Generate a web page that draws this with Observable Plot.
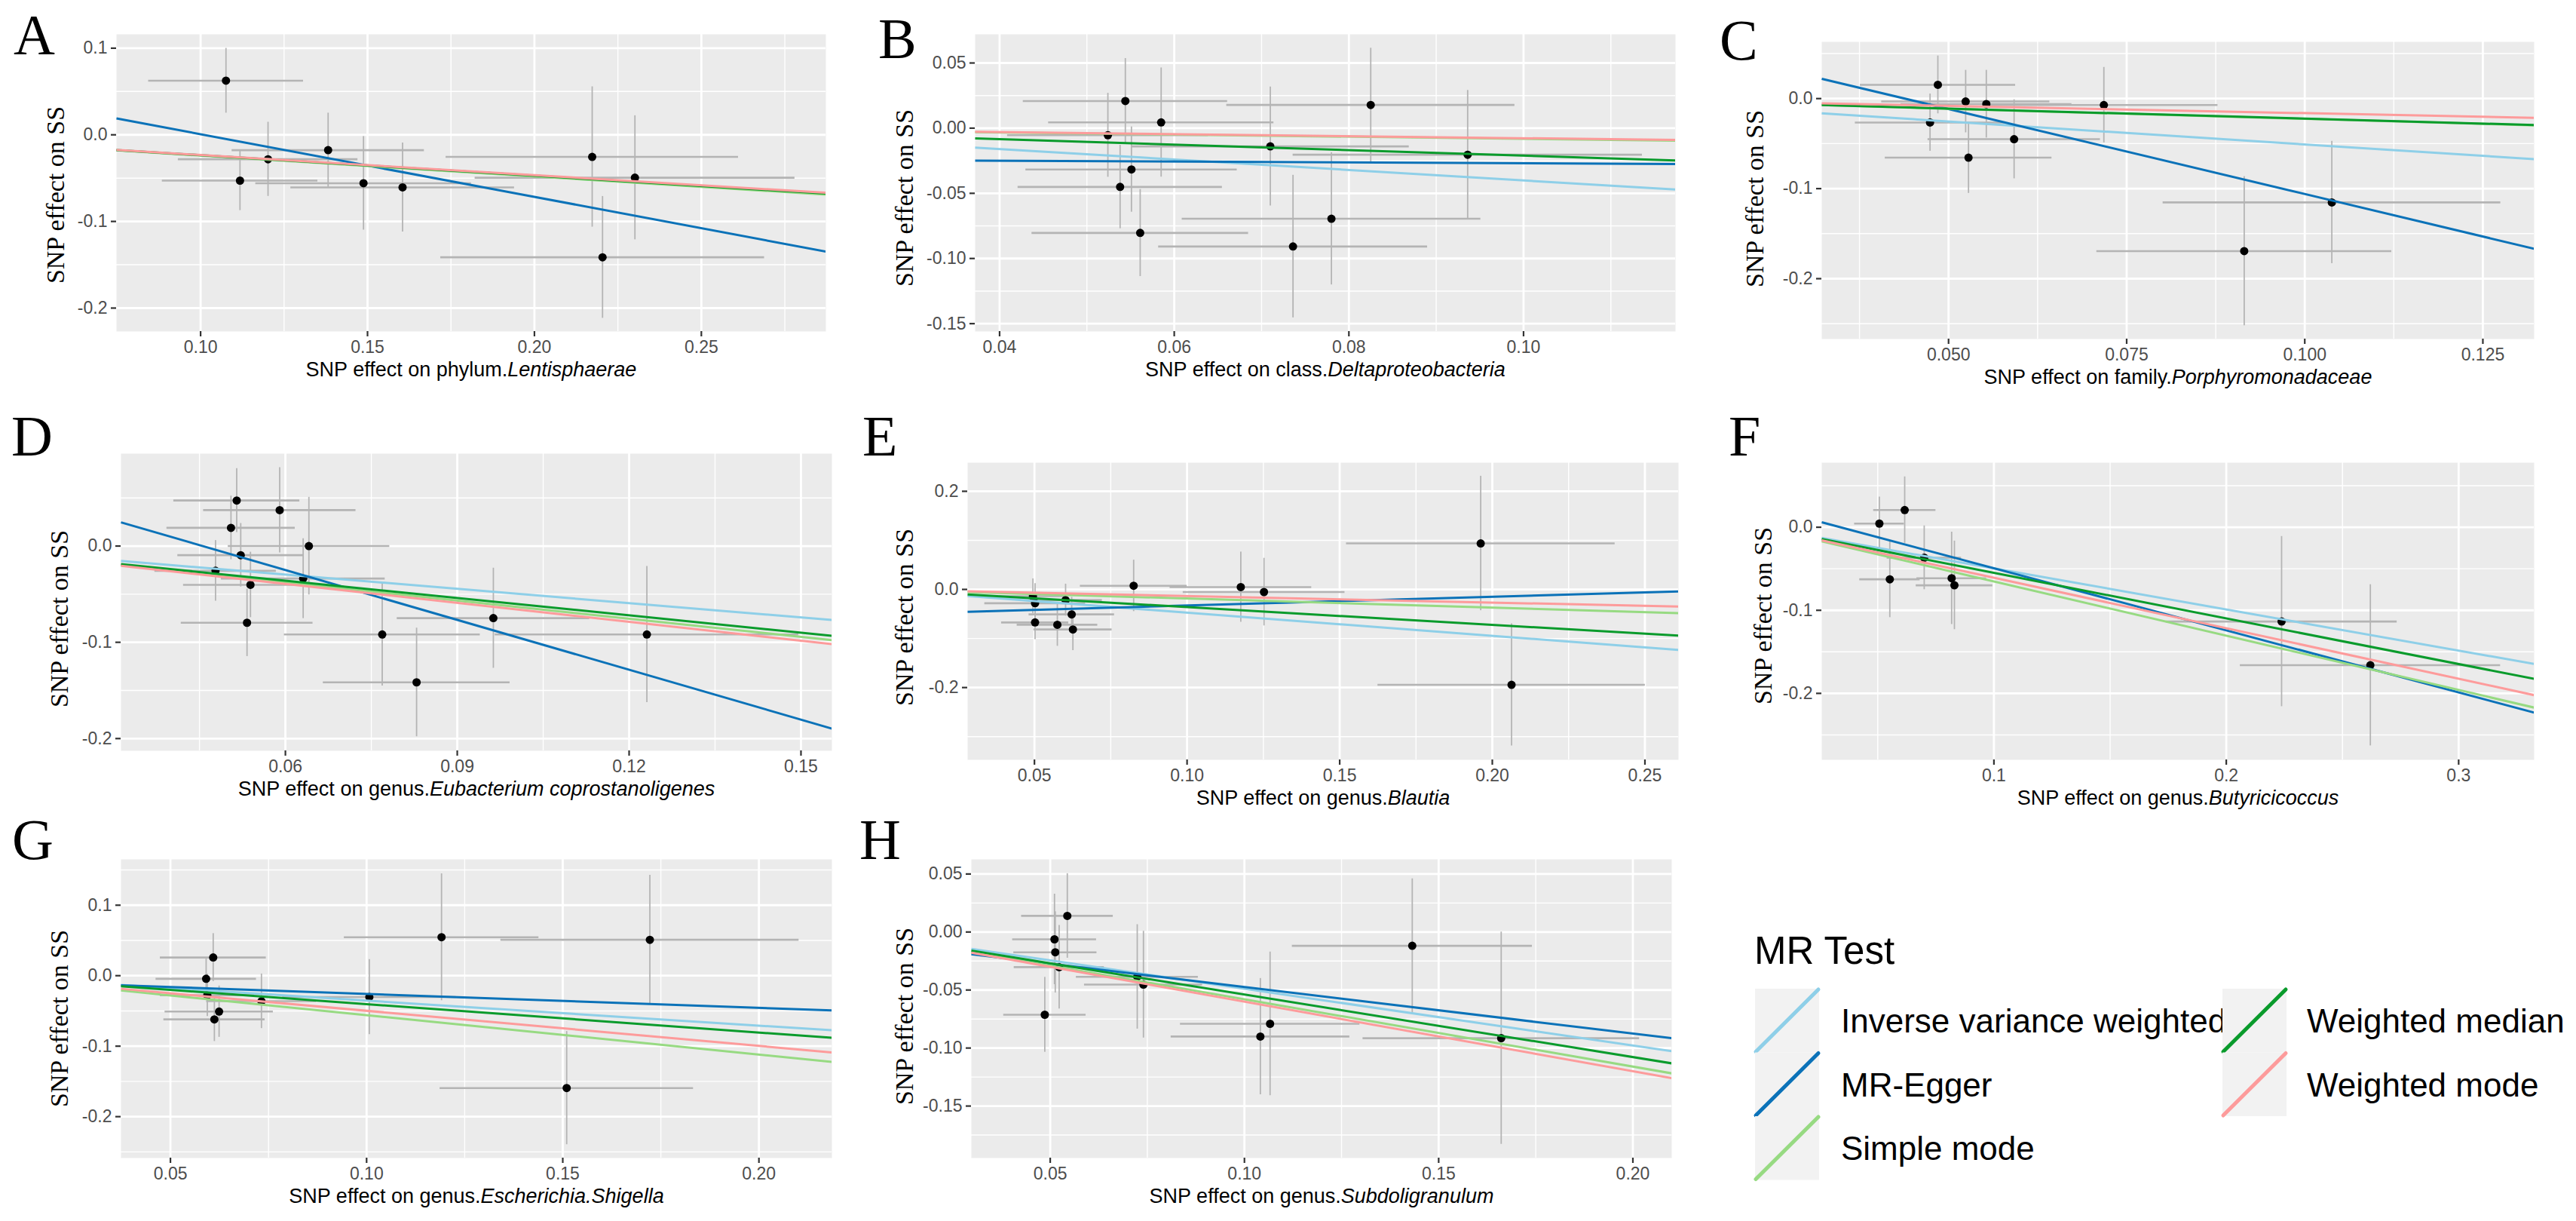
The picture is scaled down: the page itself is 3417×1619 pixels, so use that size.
<!DOCTYPE html>
<html>
<head>
<meta charset="utf-8">
<script src="https://cdn.jsdelivr.net/npm/d3@7"></script>
<script src="https://cdn.jsdelivr.net/npm/@observablehq/plot@0.6"></script>
<style>
html, body { margin: 0; padding: 0; background: #ffffff; width: 3417px; height: 1619px; overflow: hidden; }
#root { position: relative; width: 3417px; height: 1619px; }
.panel { position: absolute; }
#overlay { position: absolute; left: 0; top: 0; pointer-events: none; }
</style>
</head>
<body>
<div id="root"></div>
<script>
// ---------------- data ----------------
const methods = ["Inverse variance weighted", "MR-Egger", "Simple mode", "Weighted median", "Weighted mode"];
const methodColors = ["#8ecfe8", "#0b72b8", "#97da82", "#0a9b2c", "#fd9b9b"];
const yTitle = "SNP effect on SS";

// Panel A – phylum.Lentisphaerae
const A_bx = [0.1076, 0.1202, 0.1118, 0.1382, 0.1488, 0.1605, 0.2173, 0.2301, 0.2204];
const A_by = [0.0625, -0.0282, -0.0529, -0.0177, -0.0559, -0.0607, -0.0255, -0.0495, -0.1414];
const A_sx = [0.0232, 0.0269, 0.0233, 0.0288, 0.0323, 0.0335, 0.0438, 0.0479, 0.0485];
const A_sy = [0.0374, 0.0428, 0.0345, 0.0428, 0.0540, 0.0513, 0.0810, 0.0716, 0.0703];
const A_slope = [-0.236, -0.7233, -0.240, -0.236, -0.233];
const A_icpt = [0, 0.0730, 0, 0, 0];
const A_xTicks = [0.10, 0.15, 0.20, 0.25], A_xLabels = ["0.10", "0.15", "0.20", "0.25"];
const A_xMinor = [0.125, 0.175, 0.225, 0.275];
const A_yTicks = [0.1, 0.0, -0.1, -0.2], A_yLabels = ["0.1", "0.0", "-0.1", "-0.2"];
const A_yMinor = [0.05, -0.05, -0.15];
const A_xDomain = [0.0748, 0.2873], A_yDomain = [-0.227, 0.116];
const A_title = ["SNP effect on phylum.", "Lentisphaerae"];

// Panel B – class.Deltaproteobacteria
const B_bx = [0.0544, 0.0585, 0.0524, 0.0551, 0.0538, 0.0561, 0.0710, 0.0825, 0.0936, 0.0780, 0.0736];
const B_by = [0.0208, 0.0044, -0.0054, -0.0317, -0.0451, -0.0804, -0.0140, 0.0178, -0.0204, -0.0695, -0.0908];
const B_sx = [0.0117, 0.0129, 0.0115, 0.0121, 0.0117, 0.0124, 0.0159, 0.0165, 0.0200, 0.0171, 0.0154];
const B_sy = [0.0327, 0.0419, 0.0322, 0.0327, 0.0320, 0.0334, 0.0457, 0.0436, 0.0494, 0.0507, 0.0547];
const B_slope = [-0.401, -0.0324, -0.082, -0.211, -0.077];
const B_icpt = [0, -0.0237, 0, 0, 0];
const B_xTicks = [0.04, 0.06, 0.08, 0.10], B_xLabels = ["0.04", "0.06", "0.08", "0.10"];
const B_xMinor = [0.05, 0.07, 0.09, 0.11];
const B_yTicks = [0.05, 0.0, -0.05, -0.10, -0.15], B_yLabels = ["0.05", "0.00", "-0.05", "-0.10", "-0.15"];
const B_yMinor = [0.025, -0.025, -0.075, -0.125];
const B_xDomain = [0.0372, 0.1174], B_yDomain = [-0.156, 0.072];
const B_title = ["SNP effect on class.", "Deltaproteobacteria"];

// Panel C – family.Porphyromonadaceae
const C_bx = [0.0485, 0.0524, 0.0553, 0.0474, 0.0718, 0.0592, 0.0528, 0.1038, 0.0915];
const C_by = [0.0153, -0.0032, -0.0061, -0.0266, -0.0072, -0.0451, -0.0656, -0.1153, -0.1694];
const C_sx = [0.0109, 0.0118, 0.0120, 0.0105, 0.0160, 0.0121, 0.0117, 0.0237, 0.0207];
const C_sy = [0.0321, 0.0347, 0.0376, 0.0318, 0.0419, 0.0439, 0.0396, 0.0679, 0.0828];
const C_slope = [-0.509, -1.888, -0.225, -0.222, -0.162];
const C_icpt = [0, 0.0828, 0, 0, 0];
const C_xTicks = [0.05, 0.075, 0.10, 0.125], C_xLabels = ["0.050", "0.075", "0.100", "0.125"];
const C_xMinor = [0.0375, 0.0625, 0.0875, 0.1125];
const C_yTicks = [0.0, -0.1, -0.2], C_yLabels = ["0.0", "-0.1", "-0.2"];
const C_yMinor = [0.05, -0.05, -0.15, -0.25];
const C_xDomain = [0.0322, 0.1322], C_yDomain = [-0.267, 0.063];
const C_title = ["SNP effect on family.", "Porphyromonadaceae"];

// Panel D – genus.Eubacterium coprostanoligenes
const D_bx = [0.0515, 0.0590, 0.0505, 0.0641, 0.0522, 0.0478, 0.0631, 0.0539, 0.0533, 0.0769, 0.0963, 0.0829, 0.1231];
const D_by = [0.0473, 0.0373, 0.0189, 0.0000, -0.0095, -0.0257, -0.0338, -0.0403, -0.0797, -0.0919, -0.0749, -0.1416, -0.0919];
const D_sx = [0.0110, 0.0133, 0.0112, 0.0141, 0.0110, 0.0106, 0.0143, 0.0117, 0.0115, 0.0171, 0.0168, 0.0163, 0.0265];
const D_sy = [0.0332, 0.0443, 0.0330, 0.0507, 0.0330, 0.0315, 0.0415, 0.0340, 0.0350, 0.0534, 0.0520, 0.0564, 0.0707];
const D_slope = [-0.494, -1.727, -0.629, -0.600, -0.656];
const D_icpt = [0, 0.0787, 0, 0, 0];
const D_xTicks = [0.06, 0.09, 0.12, 0.15], D_xLabels = ["0.06", "0.09", "0.12", "0.15"];
const D_xMinor = [0.045, 0.075, 0.105, 0.135];
const D_yTicks = [0.0, -0.1, -0.2], D_yLabels = ["0.0", "-0.1", "-0.2"];
const D_yMinor = [0.05, -0.05, -0.15];
const D_xDomain = [0.0313, 0.1554], D_yDomain = [-0.2127, 0.096];
const D_title = ["SNP effect on genus.", "Eubacterium coprostanoligenes"];

// Panel E – genus.Blautia
const E_bx = [0.0495, 0.0502, 0.0602, 0.0622, 0.0502, 0.0575, 0.0626, 0.0825, 0.1176, 0.1252, 0.1962, 0.2063];
const E_by = [-0.0138, -0.0281, -0.0217, -0.0509, -0.0673, -0.0720, -0.0816, 0.0074, 0.0048, -0.0053, 0.0938, -0.1944];
const E_sx = [0.0110, 0.0165, 0.0120, 0.0140, 0.0110, 0.0132, 0.0128, 0.0175, 0.0232, 0.0265, 0.0440, 0.0438];
const E_sy = [0.0355, 0.0400, 0.0326, 0.0350, 0.0350, 0.0437, 0.0429, 0.0524, 0.0715, 0.0689, 0.1370, 0.1245];
const E_slope = [-0.473, 0.1778, -0.185, -0.361, -0.134];
const E_icpt = [0, -0.0506, 0, 0, 0];
const E_xTicks = [0.05, 0.10, 0.15, 0.20, 0.25], E_xLabels = ["0.05", "0.10", "0.15", "0.20", "0.25"];
const E_xMinor = [0.075, 0.125, 0.175, 0.225];
const E_yTicks = [0.2, 0.0, -0.2], E_yLabels = ["0.2", "0.0", "-0.2"];
const E_yMinor = [0.1, -0.1, -0.3];
const E_xDomain = [0.0281, 0.261], E_yDomain = [-0.3473, 0.2583];
const E_title = ["SNP effect on genus.", "Blautia"];

// Panel F – genus.Butyricicoccus
const F_bx = [0.0507, 0.0616, 0.0700, 0.0552, 0.0818, 0.0830, 0.2238, 0.2620];
const F_by = [0.0044, 0.0207, -0.0367, -0.0627, -0.0614, -0.0699, -0.1135, -0.1661];
const F_sx = [0.0107, 0.0134, 0.0160, 0.0130, 0.0150, 0.0165, 0.0497, 0.0560];
const F_sy = [0.0320, 0.0400, 0.0384, 0.0460, 0.0556, 0.0533, 0.1024, 0.0970];
const F_slope = [-0.495, -0.7476, -0.653, -0.549, -0.608];
const F_icpt = [0, 0.0254, 0, 0, 0];
const F_xTicks = [0.1, 0.2, 0.3], F_xLabels = ["0.1", "0.2", "0.3"];
const F_xMinor = [0.05, 0.15, 0.25];
const F_yTicks = [0.0, -0.1, -0.2], F_yLabels = ["0.0", "-0.1", "-0.2"];
const F_yMinor = [0.05, -0.05, -0.15, -0.25];
const F_xDomain = [0.0259, 0.3325], F_yDomain = [-0.280, 0.0777];
const F_title = ["SNP effect on genus.", "Butyricicoccus"];

// Panel G – genus.Escherichia.Shigella
const G_bx = [0.0609, 0.0591, 0.0594, 0.0732, 0.0624, 0.0612, 0.1007, 0.1191, 0.1722, 0.1510];
const G_by = [0.0258, -0.0044, -0.0277, -0.0362, -0.0509, -0.0620, -0.0303, 0.0546, 0.0509, -0.1594];
const G_sx = [0.0135, 0.0128, 0.0120, 0.0140, 0.0138, 0.0129, 0.0221, 0.0248, 0.0380, 0.0323];
const G_sy = [0.0340, 0.0280, 0.0300, 0.0387, 0.0364, 0.0313, 0.0533, 0.0900, 0.0915, 0.0803];
const G_slope = [-0.3545, -0.197, -0.560, -0.4035, -0.498];
const G_icpt = [0, -0.0063, 0, 0, 0];
const G_xTicks = [0.05, 0.10, 0.15, 0.20], G_xLabels = ["0.05", "0.10", "0.15", "0.20"];
const G_xMinor = [0.075, 0.125, 0.175];
const G_yTicks = [0.1, 0.0, -0.1, -0.2], G_yLabels = ["0.1", "0.0", "-0.1", "-0.2"];
const G_yMinor = [0.15, 0.05, -0.05, -0.15, -0.25];
const G_xDomain = [0.0374, 0.2186], G_yDomain = [-0.2587, 0.165];
const G_title = ["SNP effect on genus.", "Escherichia.Shigella"];

// Panel H – genus.Subdoligranulum
const H_bx = [0.0544, 0.0511, 0.0513, 0.0523, 0.0486, 0.0724, 0.0740, 0.1066, 0.1041, 0.1432, 0.1661];
const H_by = [0.0139, -0.0063, -0.0175, -0.0303, -0.0713, -0.0386, -0.0453, -0.0791, -0.0901, -0.0119, -0.0915];
const H_sx = [0.0118, 0.0108, 0.0107, 0.0116, 0.0106, 0.0157, 0.0152, 0.0231, 0.0230, 0.0309, 0.0356];
const H_sy = [0.0364, 0.0390, 0.0350, 0.0360, 0.0323, 0.0450, 0.0460, 0.0619, 0.0501, 0.0578, 0.0915];
const H_slope = [-0.489, -0.4016, -0.580, -0.539, -0.600];
const H_icpt = [0, -0.0072, 0, 0, 0];
const H_xTicks = [0.05, 0.10, 0.15, 0.20], H_xLabels = ["0.05", "0.10", "0.15", "0.20"];
const H_xMinor = [0.075, 0.125, 0.175];
const H_yTicks = [0.05, 0.0, -0.05, -0.10, -0.15], H_yLabels = ["0.05", "0.00", "-0.05", "-0.10", "-0.15"];
const H_yMinor = [0.025, -0.025, -0.075, -0.125, -0.175];
const H_xDomain = [0.0297, 0.210], H_yDomain = [-0.1948, 0.0626];
const H_title = ["SNP effect on genus.", "Subdoligranulum"];

// ---------------- layout ----------------
const panels = [
  {id: "A", bx: A_bx, by: A_by, sx: A_sx, sy: A_sy, slope: A_slope, icpt: A_icpt, xTicks: A_xTicks, xLabels: A_xLabels, xMinor: A_xMinor, yTicks: A_yTicks, yLabels: A_yLabels, yMinor: A_yMinor, xDomain: A_xDomain, yDomain: A_yDomain, title: A_title,
   frame: [154, 45, 1095, 439], yDx: 80, yDy: 16, letter: [18, 72]},
  {id: "B", bx: B_bx, by: B_by, sx: B_sx, sy: B_sy, slope: B_slope, icpt: B_icpt, xTicks: B_xTicks, xLabels: B_xLabels, xMinor: B_xMinor, yTicks: B_yTicks, yLabels: B_yLabels, yMinor: B_yMinor, xDomain: B_xDomain, yDomain: B_yDomain, title: B_title,
   frame: [1293, 45, 2222, 439], yDx: 93, yDy: 20, letter: [1165, 77]},
  {id: "C", bx: C_bx, by: C_by, sx: C_sx, sy: C_sy, slope: C_slope, icpt: C_icpt, xTicks: C_xTicks, xLabels: C_xLabels, xMinor: C_xMinor, yTicks: C_yTicks, yLabels: C_yLabels, yMinor: C_yMinor, xDomain: C_xDomain, yDomain: C_yDomain, title: C_title,
   frame: [2416, 55, 3361, 449], yDx: 88, yDy: 11, letter: [2281, 79]},
  {id: "D", bx: D_bx, by: D_by, sx: D_sx, sy: D_sy, slope: D_slope, icpt: D_icpt, xTicks: D_xTicks, xLabels: D_xLabels, xMinor: D_xMinor, yTicks: D_yTicks, yLabels: D_yLabels, yMinor: D_yMinor, xDomain: D_xDomain, yDomain: D_yDomain, title: D_title,
   frame: [160, 601, 1103, 995], yDx: 81, yDy: 22, letter: [15, 604]},
  {id: "E", bx: E_bx, by: E_by, sx: E_sx, sy: E_sy, slope: E_slope, icpt: E_icpt, xTicks: E_xTicks, xLabels: E_xLabels, xMinor: E_xMinor, yTicks: E_yTicks, yLabels: E_yLabels, yMinor: E_yMinor, xDomain: E_xDomain, yDomain: E_yDomain, title: E_title,
   frame: [1283, 613, 2226, 1007], yDx: 83, yDy: 8, letter: [1144, 604]},
  {id: "F", bx: F_bx, by: F_by, sx: F_sx, sy: F_sy, slope: F_slope, icpt: F_icpt, xTicks: F_xTicks, xLabels: F_xLabels, xMinor: F_xMinor, yTicks: F_yTicks, yLabels: F_yLabels, yMinor: F_yMinor, xDomain: F_xDomain, yDomain: F_yDomain, title: F_title,
   frame: [2416, 613, 3361, 1007], yDx: 77, yDy: 6, letter: [2293, 604]},
  {id: "G", bx: G_bx, by: G_by, sx: G_sx, sy: G_sy, slope: G_slope, icpt: G_icpt, xTicks: G_xTicks, xLabels: G_xLabels, xMinor: G_xMinor, yTicks: G_yTicks, yLabels: G_yLabels, yMinor: G_yMinor, xDomain: G_xDomain, yDomain: G_yDomain, title: G_title,
   frame: [160, 1139, 1103, 1535], yDx: 81, yDy: 13, letter: [16, 1139]},
  {id: "H", bx: H_bx, by: H_by, sx: H_sx, sy: H_sy, slope: H_slope, icpt: H_icpt, xTicks: H_xTicks, xLabels: H_xLabels, xMinor: H_xMinor, yTicks: H_yTicks, yLabels: H_yLabels, yMinor: H_yMinor, xDomain: H_xDomain, yDomain: H_yDomain, title: H_title,
   frame: [1288, 1139, 2217, 1535], yDx: 88, yDy: 10, letter: [1140, 1139]}
];

const SANS = "'Liberation Sans', Arial, Helvetica, sans-serif";
const SERIF = "'Liberation Serif', 'Times New Roman', Times, serif";
const root = document.getElementById("root");

function makePanel(p) {
  const [L, T, R, B] = p.frame;
  const ml = 160, mt = 20, mr = 20, mb = 90;
  const pts = p.bx.map((x, i) => ({x, y: p.by[i], sx: p.sx[i], sy: p.sy[i]}));
  const lines = methods.map((m, i) => ({method: m, b: p.slope[i], a: p.icpt[i]}));
  const [x0, x1] = p.xDomain;
  const fullTitle = p.title.join("");
  const gridStyle = {stroke: "#ffffff", strokeOpacity: 1};
  const svg = Plot.plot({
    width: (R - L) + ml + mr,
    height: (B - T) + mt + mb,
    marginLeft: ml, marginTop: mt, marginRight: mr, marginBottom: mb,
    x: {domain: p.xDomain},
    y: {domain: p.yDomain},
    color: {domain: methods, range: methodColors},
    style: {background: "transparent", fontFamily: SANS, fontSize: "23px", color: "#4d4d4d", overflow: "visible"},
    marks: [
      Plot.frame({fill: "#ebebeb", stroke: "none"}),
      Plot.gridX(p.xMinor, {...gridStyle, strokeWidth: 1.4}),
      Plot.gridY(p.yMinor, {...gridStyle, strokeWidth: 1.4}),
      Plot.gridX(p.xTicks, {...gridStyle, strokeWidth: 2.8}),
      Plot.gridY(p.yTicks, {...gridStyle, strokeWidth: 2.8}),
      Plot.axisX(p.xTicks, {tickFormat: d => p.xLabels[p.xTicks.indexOf(d)], tickSize: 7, tickPadding: 5, fontSize: 23, label: null, stroke: "#333333", strokeWidth: 2.2, fill: "#4d4d4d"}),
      Plot.axisY(p.yTicks, {tickFormat: d => p.yLabels[p.yTicks.indexOf(d)], tickSize: 7, tickPadding: 5, fontSize: 23, label: null, stroke: "#333333", strokeWidth: 2.2, fill: "#4d4d4d"}),
      Plot.ruleX(pts, {x: "x", y1: d => d.y - d.sy, y2: d => d.y + d.sy, stroke: "#b4b4b4", strokeWidth: 1.8, clip: true}),
      Plot.ruleY(pts, {y: "y", x1: d => d.x - d.sx, x2: d => d.x + d.sx, stroke: "#b4b4b4", strokeWidth: 2.6, clip: true}),
      Plot.dot(pts, {x: "x", y: "y", r: 5.5, fill: "#000000", stroke: "none"}),
      Plot.link(lines, {x1: () => x0, x2: () => x1, y1: d => d.a + d.b * x0, y2: d => d.a + d.b * x1, stroke: "method", strokeWidth: 3, clip: true}),
      Plot.text([yTitle], {text: d => d, frameAnchor: "left", rotate: -90, dx: -p.yDx, dy: p.yDy, fontFamily: SERIF, fontSize: 34, fill: "#000000", textAnchor: "middle", lineAnchor: "middle"}),
      Plot.text([fullTitle], {text: d => d, frameAnchor: "bottom", dy: 51, fontFamily: SANS, fontSize: 27, fill: "#000000", textAnchor: "middle", lineAnchor: "middle"})
    ]
  });
  // italicise the taxon name in the x-axis title
  svg.querySelectorAll("text").forEach(t => {
    if (t.textContent === fullTitle) {
      while (t.firstChild) t.removeChild(t.firstChild);
      const ns = "http://www.w3.org/2000/svg";
      const a = document.createElementNS(ns, "tspan");
      a.textContent = p.title[0];
      const b = document.createElementNS(ns, "tspan");
      b.setAttribute("font-style", "italic");
      b.textContent = p.title[1];
      t.appendChild(a); t.appendChild(b);
    }
  });
  svg.classList.add("panel");
  svg.style.left = (L - ml) + "px";
  svg.style.top = (T - mt) + "px";
  root.appendChild(svg);
}
panels.forEach(makePanel);

// ---------------- overlay: panel letters + legend ----------------
const overlay = d3.select(root).append("svg")
  .attr("id", "overlay").attr("width", 3417).attr("height", 1619);

overlay.selectAll("text.letter").data(panels).join("text")
  .attr("class", "letter")
  .attr("x", d => d.letter[0]).attr("y", d => d.letter[1])
  .attr("font-family", SERIF).attr("font-size", 76).attr("fill", "#000")
  .text(d => d.id);

const legendTitle = "MR Test";
overlay.append("text").attr("x", 2327).attr("y", 1278)
  .attr("font-family", SANS).attr("font-size", 51).attr("fill", "#000").text(legendTitle);

const keyW = 85, keyH = 84.5, keyTop = 1311;
const colX = [2328, 2948], textX = [2442, 3060];
const items = methods.map((m, i) => ({m, c: methodColors[i], col: i < 3 ? 0 : 1, row: i < 3 ? i : i - 3}));
const g = overlay.selectAll("g.key").data(items).join("g").attr("class", "key");
g.append("rect")
  .attr("x", d => colX[d.col]).attr("y", d => keyTop + d.row * keyH)
  .attr("width", keyW).attr("height", keyH).attr("fill", "#f2f2f2");
g.append("line")
  .attr("x1", d => colX[d.col] + 1).attr("y1", d => keyTop + (d.row + 1) * keyH - 1)
  .attr("x2", d => colX[d.col] + keyW - 1).attr("y2", d => keyTop + d.row * keyH + 1)
  .attr("stroke", d => d.c).attr("stroke-width", 5).attr("stroke-linecap", "round");
g.append("text")
  .attr("x", d => textX[d.col]).attr("y", d => keyTop + d.row * keyH + keyH / 2 + 16)
  .attr("font-family", SANS).attr("font-size", 44).attr("fill", "#000")
  .text(d => d.m);
</script>
</body>
</html>
